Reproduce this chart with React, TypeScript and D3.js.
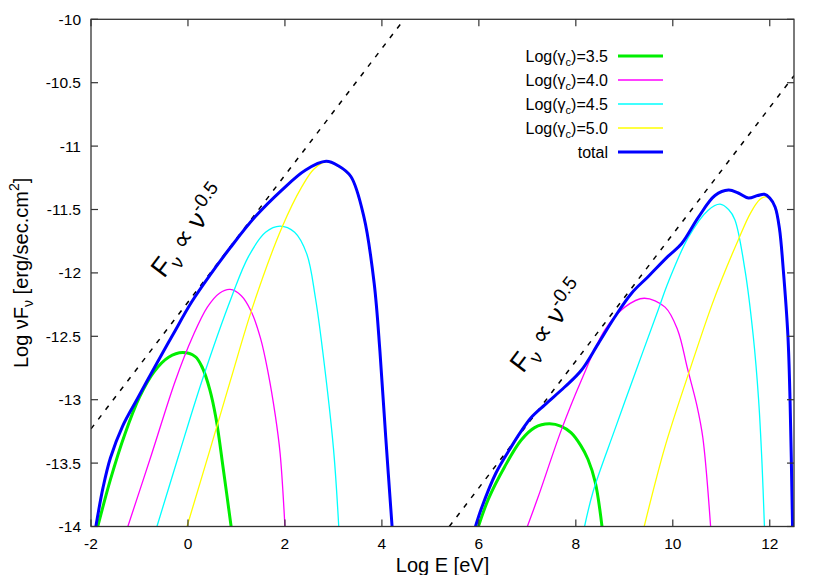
import React from 'react';
import * as d3 from 'd3';

type Pt = [number, number];

// x ticks (Log E) and y ticks (Log nuFnu)
const xTicks = [-2, 0, 2, 4, 6, 8, 10, 12];
const yTicks = [-10, -10.5, -11, -11.5, -12, -12.5, -13, -13.5, -14];

// low-energy bump (synchrotron)
const lowGreen: Pt[] = [[-1.86, -14], [-1.6, -13.63], [-1.3, -13.27], [-1.0, -12.98], [-0.7, -12.78], [-0.4, -12.665], [-0.11, -12.628], [0.15, -12.66], [0.3, -12.75], [0.45, -12.92], [0.58, -13.15], [0.73, -13.55], [0.89, -14]];
const lowMagenta: Pt[] = [[-1.24, -14], [-0.75, -13.43], [-0.26, -12.85], [0.1, -12.5], [0.4, -12.27], [0.65, -12.16], [0.87, -12.13], [1.1, -12.18], [1.3, -12.3], [1.5, -12.52], [1.65, -12.78], [1.8, -13.12], [1.9, -13.42], [2.0, -14]];
const lowCyan: Pt[] = [[-0.64, -14], [-0.2, -13.45], [0.29, -12.85], [0.9, -12.19], [1.25, -11.87], [1.6, -11.68], [1.9, -11.631], [2.2, -11.68], [2.45, -11.85], [2.63, -12.2], [2.78, -12.62], [3.0, -13.38], [3.11, -14]];
const lowYellow: Pt[] = [[-0.02, -14], [0.45, -13.4], [0.875, -12.85], [1.35, -12.25], [1.94, -11.64], [2.35, -11.32], [2.6, -11.18], [2.85, -11.125], [3.1, -11.16], [3.36, -11.245], [3.63, -11.565], [3.84, -12.085], [3.96, -12.625], [4.08, -13.305], [4.21, -14]];
const lowTotal: Pt[] = [[-1.9, -14], [-1.75, -13.69], [-1.6, -13.46], [-1.35, -13.21], [-1.055, -13.0], [-0.87, -12.87], [-0.55, -12.65], [-0.3, -12.48], [0.075, -12.23], [0.45, -12.02], [0.875, -11.8], [1.385, -11.558], [1.936, -11.347], [2.42, -11.19], [2.85, -11.12], [3.1, -11.155], [3.36, -11.24], [3.63, -11.56], [3.84, -12.08], [3.96, -12.62], [4.08, -13.3], [4.21, -14]];

// high-energy bump (inverse Compton)
const highGreen: Pt[] = [[5.99, -14], [6.2, -13.78], [6.53, -13.53], [6.87, -13.32], [7.15, -13.22], [7.45, -13.19], [7.7, -13.21], [7.9, -13.26], [8.1, -13.36], [8.25, -13.47], [8.4, -13.65], [8.54, -14]];
const highMagenta: Pt[] = [[7.0, -14], [7.22, -13.77], [7.7, -13.24], [8.11, -12.85], [8.6, -12.45], [9.01, -12.27], [9.41, -12.2], [9.84, -12.27], [10.1, -12.45], [10.3, -12.75], [10.5, -13.05], [10.62, -13.3], [10.78, -14]];
const highCyan: Pt[] = [[8.18, -14], [8.36, -13.72], [8.8, -13.24], [9.29, -12.72], [9.7, -12.29], [9.91, -12.07], [10.32, -11.72], [10.73, -11.505], [10.975, -11.458], [11.15, -11.5], [11.28, -11.58], [11.49, -11.98], [11.66, -12.5], [11.77, -13.0], [11.84, -13.5], [11.89, -14]];
const highYellow: Pt[] = [[9.41, -14], [9.84, -13.37], [10.32, -12.8], [10.8, -12.26], [11.01, -12.05], [11.35, -11.74], [11.6, -11.53], [11.8, -11.42], [11.92, -11.4], [12.05, -11.44], [12.15, -11.55], [12.28, -11.98], [12.375, -12.5], [12.42, -13.03], [12.47, -14]];
const highTotal: Pt[] = [[5.93, -14], [6.05, -13.86], [6.35, -13.58], [6.67, -13.37], [6.87, -13.25], [7.08, -13.14], [7.36, -13.04], [7.77, -12.9], [8.11, -12.77], [8.46, -12.56], [8.8, -12.35], [9.15, -12.16], [9.49, -12.03], [9.9, -11.87], [10.18, -11.77], [10.53, -11.56], [10.87, -11.39], [11.15, -11.347], [11.35, -11.37], [11.56, -11.41], [11.75, -11.39], [11.89, -11.38], [12.0, -11.41], [12.11, -11.48], [12.2, -11.65], [12.28, -11.98], [12.375, -12.5], [12.42, -13.03], [12.47, -14]];

// nu^0.5 guide lines
const guideLow: Pt[] = [[-2, -13.23], [4.46, -10]];
const guideHigh: Pt[] = [[5.39, -14], [12.5, -10.445]];

const legendLabels = ['3.5', '4.0', '4.5', '5.0'];
const colors = ['#00ee00', '#ff00ff', '#00ffff', '#ffff00', '#0000ff'];
const widths = [3, 1.3, 1.3, 1.3, 3];

const App = () => {
  const width = 821, height = 575;
  const left = 91, right = 794, top = 19.3, bottom = 526.5;
  const font = '"Liberation Sans", Arial, Helvetica, sans-serif';

  const x = d3.scaleLinear().domain([-2, 12.5]).range([left, right]);
  const y = d3.scaleLinear().domain([-14, -10]).range([bottom, top]);

  const line = d3.line<Pt>().x(d => x(d[0])).y(d => y(d[1])).curve(d3.curveCatmullRom.alpha(0.5));
  const straight = d3.line<Pt>().x(d => x(d[0])).y(d => y(d[1]));

  const series = [
    [lowGreen, highGreen],
    [lowMagenta, highMagenta],
    [lowCyan, highCyan],
    [lowYellow, highYellow],
    [lowTotal, highTotal],
  ];

  const label = (px: number, py: number) => (
    <text transform={`translate(${px},${py}) rotate(-53)`} fontSize={27} fontFamily={font} fill="#000">
      F<tspan fontSize={19} dy={7}>ν</tspan>
      <tspan dy={-7}> ∝ ν</tspan>
      <tspan fontSize={19} dy={-11}>-0.5</tspan>
    </text>
  );

  return (
    <svg width={width} height={height} style={{ position: 'absolute', left: 0, top: 0, background: '#fff' }}>
      <defs>
        <clipPath id="plot">
          <rect x={left} y={top} width={right - left} height={bottom - top} />
        </clipPath>
      </defs>

      <g clipPath="url(#plot)">
        <path d={straight(guideLow) || ''} stroke="#000" strokeWidth={1.5} strokeDasharray="5,7" fill="none" />
        <path d={straight(guideHigh) || ''} stroke="#000" strokeWidth={1.5} strokeDasharray="5,7" fill="none" />
        {series.map((pair, i) =>
          pair.map((s, j) => (
            <path key={`${i}-${j}`} d={line(s) || ''} stroke={colors[i]} strokeWidth={widths[i]} fill="none" />
          ))
        )}
      </g>

      {/* frame and ticks */}
      <rect x={left} y={top} width={right - left} height={bottom - top} fill="none" stroke="#333" strokeWidth={1.3} />
      {xTicks.map(t => (
        <g key={`x${t}`}>
          <line x1={x(t)} x2={x(t)} y1={bottom} y2={bottom - 7} stroke="#333" strokeWidth={1.2} />
          <line x1={x(t)} x2={x(t)} y1={top} y2={top + 7} stroke="#333" strokeWidth={1.2} />
          <text x={x(t)} y={bottom + 22} textAnchor="middle" fontSize={15.5} fontFamily={font}>{t}</text>
        </g>
      ))}
      {yTicks.map(t => (
        <g key={`y${t}`}>
          <line x1={left} x2={left + 7} y1={y(t)} y2={y(t)} stroke="#333" strokeWidth={1.2} />
          <line x1={right} x2={right - 7} y1={y(t)} y2={y(t)} stroke="#333" strokeWidth={1.2} />
          <text x={left - 10} y={y(t) + 5.5} textAnchor="end" fontSize={15.5} fontFamily={font}>{t}</text>
        </g>
      ))}

      <text x={(left + right) / 2} y={572} textAnchor="middle" fontSize={20} fontFamily={font}>Log E [eV]</text>
      <text transform={`translate(28,${(top + bottom) / 2}) rotate(-90)`} textAnchor="middle" fontSize={20} fontFamily={font}>
        Log νF<tspan fontSize={14} dy={5}>ν</tspan><tspan dy={-5}> [erg/sec.cm</tspan><tspan fontSize={14} dy={-9}>2</tspan><tspan dy={9}>]</tspan>
      </text>

      {label(164, 279)}
      {label(523, 374)}

      {/* legend */}
      {[...legendLabels, 'total'].map((l, i) => {
        const ly = 56 + i * 24;
        return (
          <g key={l}>
            <text x={608} y={ly + 5.5} textAnchor="end" fontSize={16} fontFamily={font}>
              {i < 4 ? (
                <>Log(γ<tspan fontSize={11} dy={4}>c</tspan><tspan dy={-4}>)={l}</tspan></>
              ) : l}
            </text>
            <line x1={618} x2={663} y1={ly} y2={ly} stroke={colors[i]} strokeWidth={widths[i]} />
          </g>
        );
      })}
    </svg>
  );
};

export default App;
